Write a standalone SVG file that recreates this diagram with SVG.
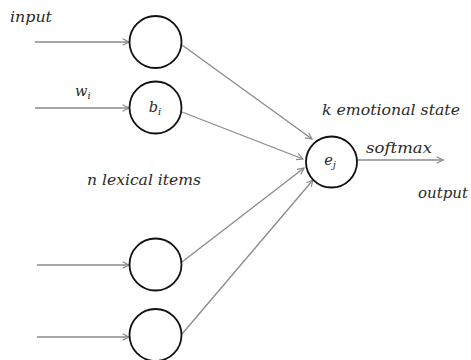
<svg xmlns="http://www.w3.org/2000/svg" width="471" height="360" viewBox="0 0 471 360">
<style>
.node{fill:#fff;stroke:#111;stroke-width:1.8}
.edge{stroke:#8a8a8a;stroke-width:1.3;fill:none;marker-end:url(#ah)}
.t{font-family:"DejaVu Serif","Liberation Serif",serif;font-style:italic;font-size:14.5px;fill:#2a2a2a}
.s{font-size:10px}
</style>
<defs>
<marker id="ah" viewBox="0 0 10 10" refX="9" refY="5" markerWidth="8" markerHeight="8" markerUnits="userSpaceOnUse" orient="auto">
<path d="M1,1 L9,5 L1,9" fill="none" stroke="#8a8a8a" stroke-width="1.4"/>
</marker>
</defs>
<rect width="471" height="360" fill="#fff"/>
<g id="connectors">
<line class="edge" x1="35" y1="42" x2="129" y2="42"/>
<line class="edge" x1="35" y1="108" x2="129" y2="108"/>
<line class="edge" x1="37" y1="265" x2="129" y2="265"/>
<line class="edge" x1="37" y1="337" x2="129" y2="337"/>
<line class="edge" x1="182" y1="45" x2="312" y2="139"/>
<line class="edge" x1="182" y1="112" x2="303" y2="159"/>
<line class="edge" x1="182" y1="262" x2="304" y2="168"/>
<line class="edge" x1="182" y1="334" x2="313" y2="180"/>
<line class="edge" x1="357" y1="160" x2="443" y2="160"/>
</g>
<g id="n1"><circle class="node" cx="155.5" cy="42" r="26"/></g>
<g id="n2"><circle class="node" cx="155.5" cy="107.5" r="26"/><text class="t" x="155" y="112" text-anchor="middle">b<tspan class="s" dy="3">i</tspan></text></g>
<g id="n3"><circle class="node" cx="155.5" cy="264.5" r="26"/></g>
<g id="n4"><circle class="node" cx="155.5" cy="335" r="26"/></g>
<g id="ej"><circle class="node" cx="331.5" cy="162" r="25.5"/><text class="t" x="330" y="165" text-anchor="middle">e<tspan class="s" dy="3">j</tspan></text></g>
<g id="labels">
<text class="t" x="10" y="22" textLength="42" lengthAdjust="spacingAndGlyphs">input</text>
<text class="t" x="75" y="96">w<tspan class="s" dy="3">i</tspan></text>
<text class="t" x="322" y="115" textLength="138" lengthAdjust="spacingAndGlyphs">k emotional state</text>
<text class="t" x="366" y="153" textLength="66" lengthAdjust="spacingAndGlyphs">softmax</text>
<text class="t" x="418" y="198" textLength="50" lengthAdjust="spacingAndGlyphs">output</text>
<text class="t" x="87" y="185" textLength="114" lengthAdjust="spacingAndGlyphs">n lexical items</text>
</g>
</svg>
